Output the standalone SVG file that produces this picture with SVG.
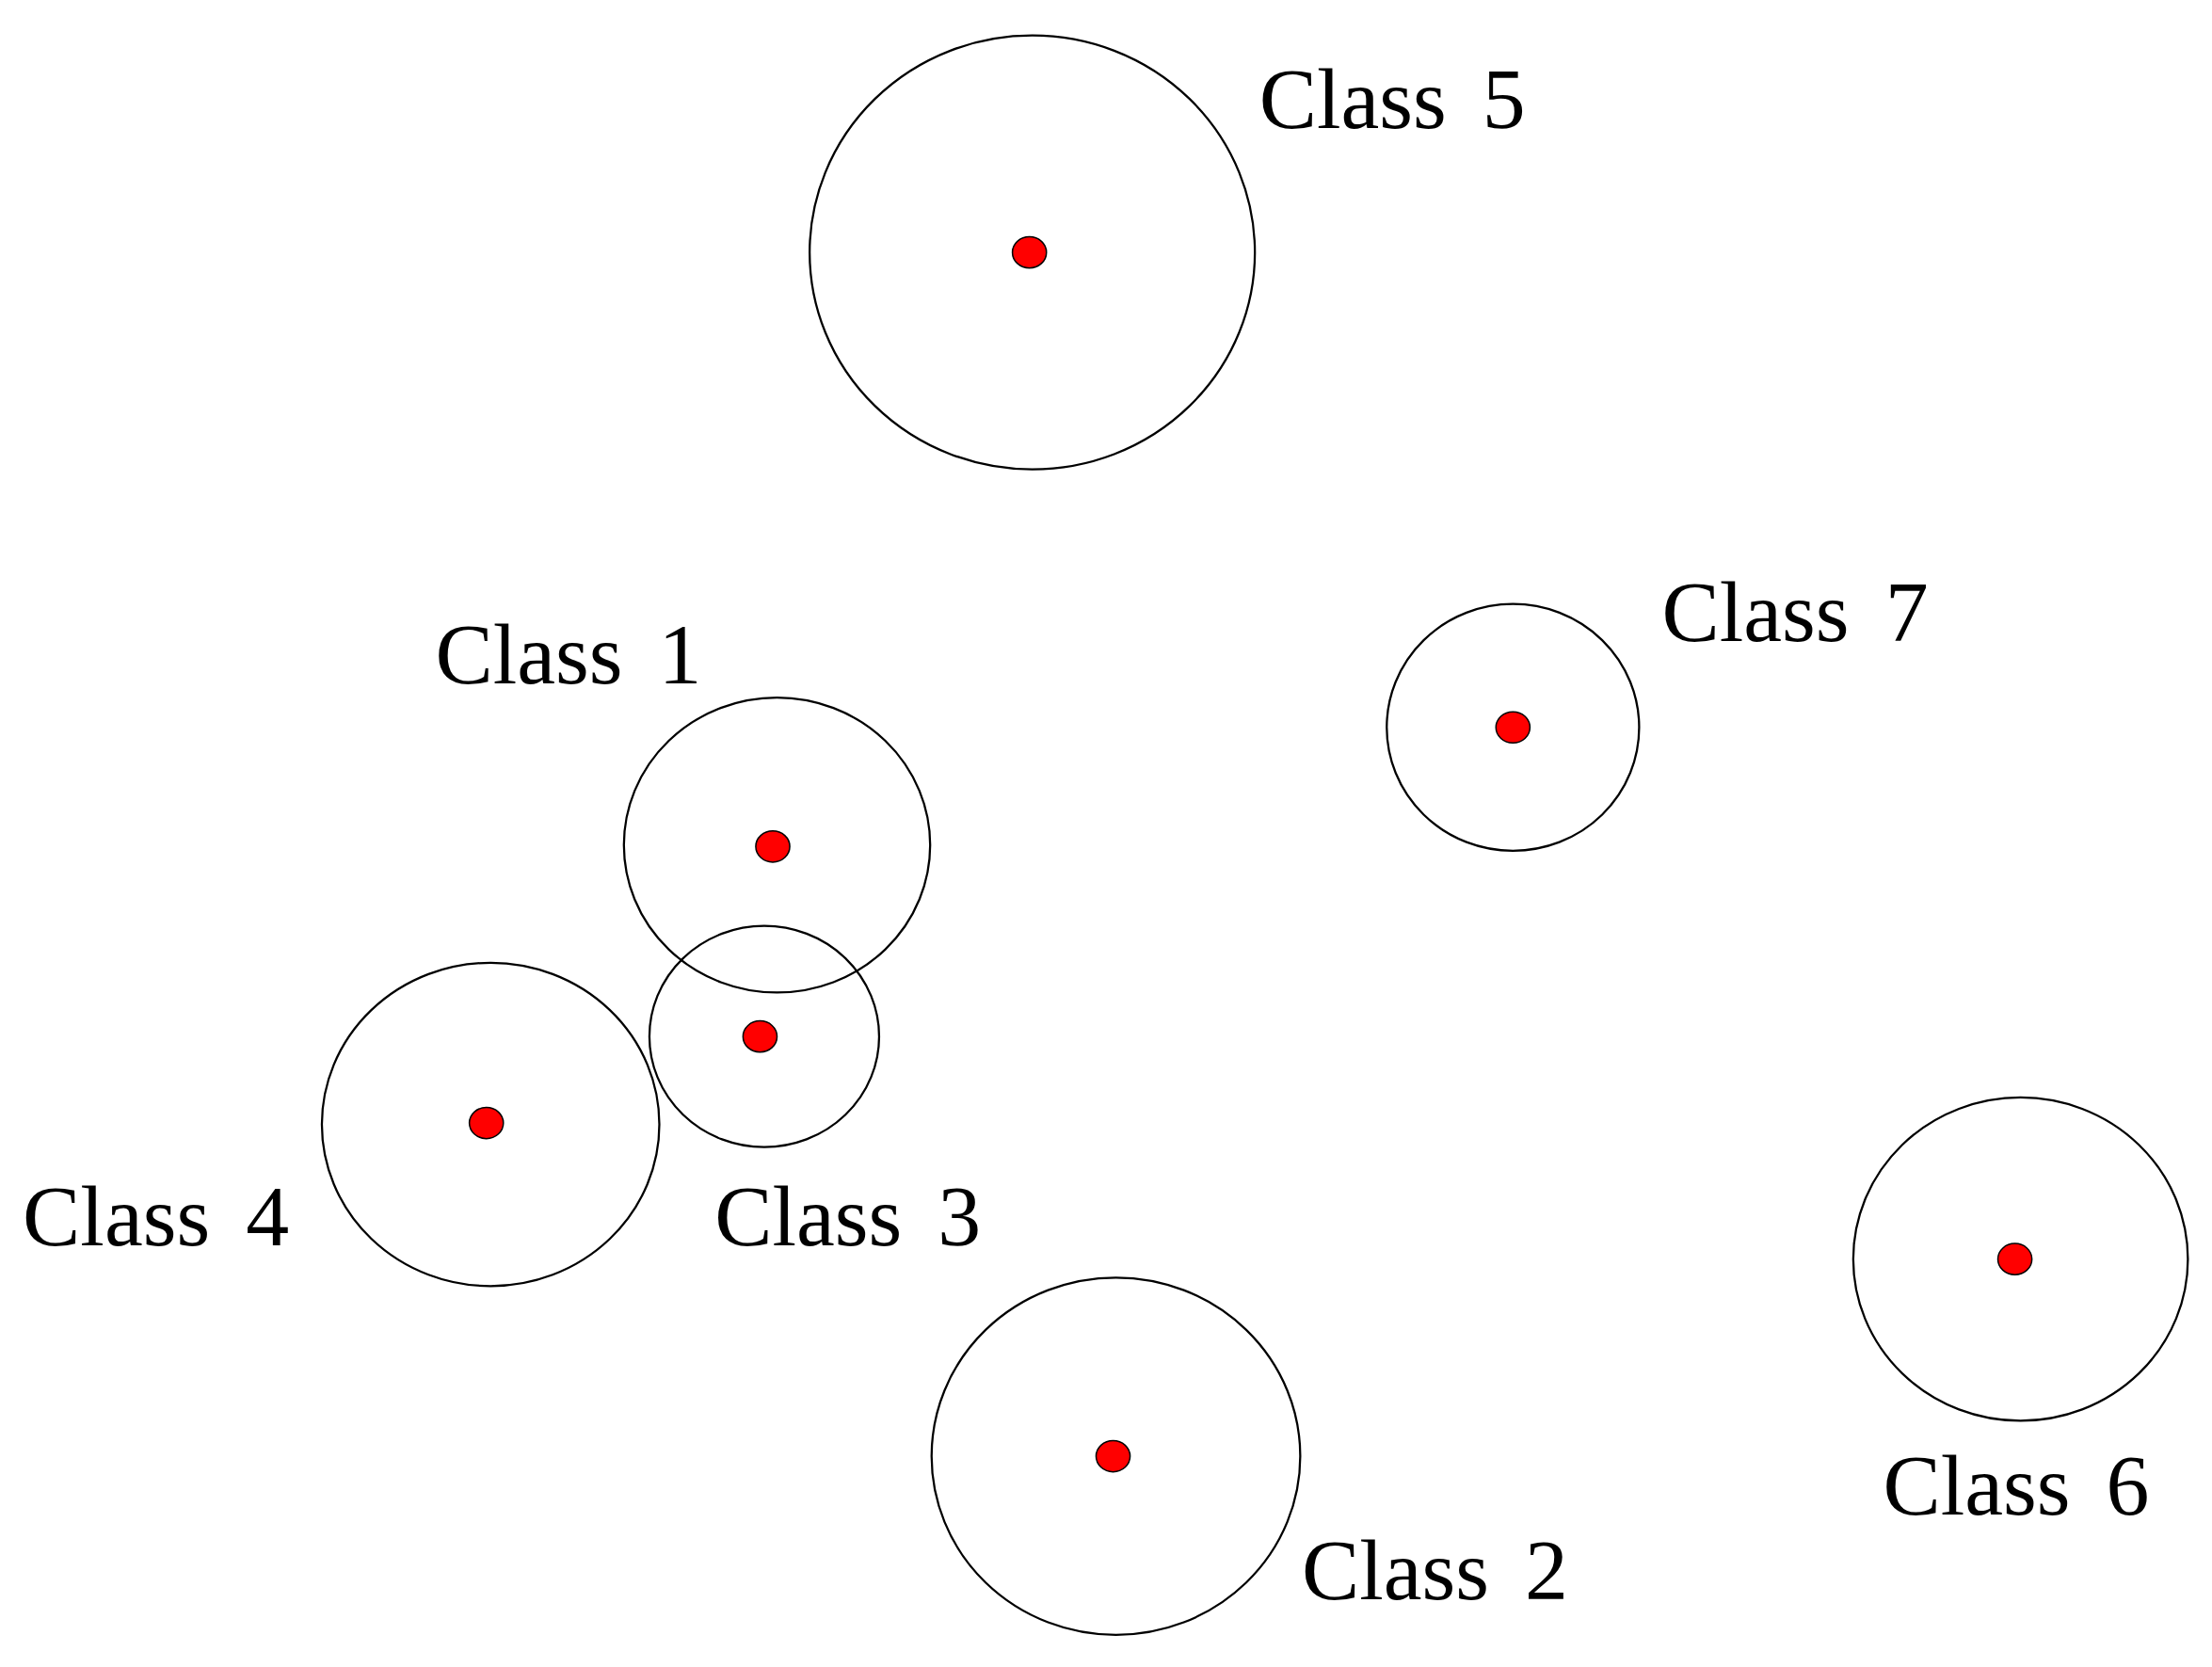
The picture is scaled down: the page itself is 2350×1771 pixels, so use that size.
<svg xmlns="http://www.w3.org/2000/svg" width="2350" height="1771" viewBox="0 0 2350 1771">
<style>
.c{fill:none;stroke:#000;stroke-width:1.5}
.d{fill:#f00;stroke:#000;stroke-width:1}
.t{font-family:"Liberation Serif",serif;font-size:61px;word-spacing:10px;fill:#000}
</style>
<rect width="2350" height="1771" fill="#fff"/>
<g transform="scale(1.5064)">
<g id="class5"><ellipse class="c" cx="728" cy="178" rx="157" ry="153"/><ellipse class="d" cx="726" cy="178" rx="12" ry="11"/><text class="t" x="888" y="90">Class 5</text></g>
<g id="class7"><ellipse class="c" cx="1067" cy="513" rx="89" ry="87"/><ellipse class="d" cx="1067" cy="513" rx="12" ry="11"/><text class="t" x="1172" y="452">Class 7</text></g>
<g id="class1"><ellipse class="c" cx="548" cy="596" rx="108" ry="104"/><ellipse class="d" cx="545" cy="597" rx="12" ry="11"/><text class="t" x="307" y="482">Class 1</text></g>
<g id="class3"><ellipse class="c" cx="539" cy="731" rx="81" ry="78"/><ellipse class="d" cx="536" cy="731" rx="12" ry="11"/><text class="t" x="504" y="878">Class 3</text></g>
<g id="class4"><ellipse class="c" cx="346" cy="793" rx="119" ry="114"/><ellipse class="d" cx="343" cy="792" rx="12" ry="11"/><text class="t" x="16" y="878">Class 4</text></g>
<g id="class2"><ellipse class="c" cx="787" cy="1027" rx="130" ry="126"/><ellipse class="d" cx="785" cy="1027" rx="12" ry="11"/><text class="t" x="918" y="1128">Class 2</text></g>
<g id="class6"><ellipse class="c" cx="1425" cy="888" rx="118" ry="114"/><ellipse class="d" cx="1421" cy="888" rx="12" ry="11"/><text class="t" x="1328" y="1068">Class 6</text></g>
<g id="connectors"/>
</g>
</svg>
